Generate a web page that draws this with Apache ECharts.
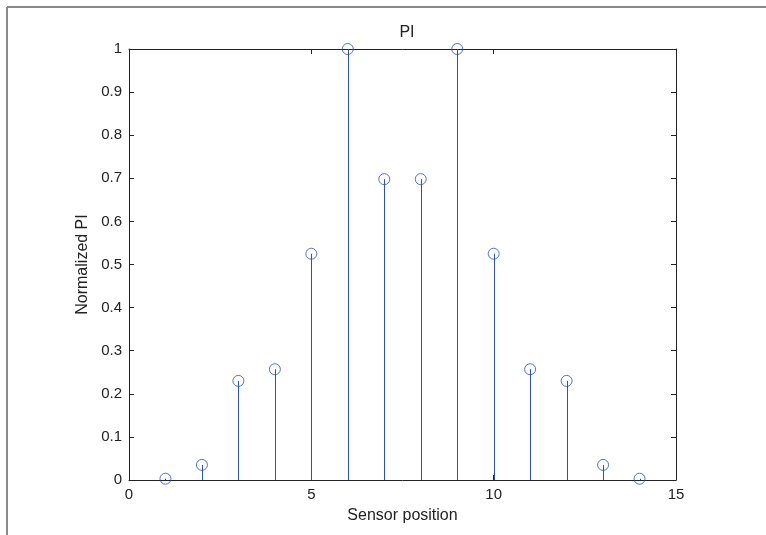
<!DOCTYPE html>
<html>
<head>
<meta charset="utf-8">
<script src="https://cdn.jsdelivr.net/npm/echarts@6/dist/echarts.min.js"></script>
<style>html,body{margin:0;padding:0;background:#fff}#c{width:766px;height:535px}</style>
</head>
<body>
<div id="c"></div>
<script>
const positions = [1,2,3,4,5,6,7,8,9,10,11,12,13,14];
const piValues = [0.003,0.035,0.23,0.257,0.525,1,0.698,0.698,1,0.525,0.257,0.23,0.035,0.003];
const xTicks = {min:0, max:15, interval:5};
const yTicks = {min:0, max:1, interval:0.1};
const titleText = 'PI';
const xName = 'Sensor position';
const yName = 'Normalized PI';

const pts = positions.map((p,i)=>[p, piValues[i]]);
const font = 'Liberation Sans, Arial, Helvetica, sans-serif';
const stemColor = '#2f50b8';
const chart = echarts.init(document.getElementById('c'), null, {renderer:'canvas'});
const axisCommon = {
  axisLine:{show:true, onZero:false, lineStyle:{color:'#222', width:1}},
  axisTick:{show:true, inside:true, length:5, lineStyle:{color:'#222'}},
  splitLine:{show:false}
};
chart.setOption({
  animation:false,
  title:{text:titleText, left:402, top:20, textAlign:'center',
    textStyle:{fontFamily:font, fontSize:16, fontWeight:'normal', color:'#222'}},
  grid:{left:129, right:90, top:49, bottom:55},
  graphic:[
    {type:'line', shape:{x1:7, y1:7, x2:766, y2:7}, style:{stroke:'#8a8a8a', lineWidth:2}},
    {type:'line', shape:{x1:7, y1:7, x2:7, y2:535}, style:{stroke:'#8a8a8a', lineWidth:2}}
  ],
  xAxis:[
    Object.assign({type:'value', position:'bottom', min:xTicks.min, max:xTicks.max, interval:xTicks.interval,
      name:xName, nameLocation:'middle', nameGap:28,
      nameTextStyle:{fontFamily:font, fontSize:16, color:'#222'},
      axisLabel:{fontFamily:font, fontSize:15, color:'#222', margin:7}}, axisCommon),
    Object.assign({type:'value', position:'top', min:xTicks.min, max:xTicks.max, interval:xTicks.interval,
      axisLabel:{show:false}}, axisCommon)
  ],
  yAxis:[
    Object.assign({type:'value', position:'left', min:yTicks.min, max:yTicks.max, interval:yTicks.interval,
      name:yName, nameLocation:'middle', nameGap:36, nameRotate:90,
      nameTextStyle:{fontFamily:font, fontSize:16, color:'#222'},
      axisLabel:{fontFamily:font, fontSize:15, color:'#222', margin:7,
        formatter:v=>String(Math.round(v*10)/10)}}, axisCommon),
    Object.assign({type:'value', position:'right', min:yTicks.min, max:yTicks.max, interval:yTicks.interval,
      axisLabel:{show:false}}, axisCommon)
  ],
  series:[
    {type:'custom', xAxisIndex:0, yAxisIndex:0, data:pts, z:2,
      renderItem:(params, api)=>{
        const top = api.coord([api.value(0), api.value(1)]);
        const base = api.coord([api.value(0), 0]);
        return {type:'line', shape:{x1:Math.round(top[0])+0.5, y1:top[1], x2:Math.round(base[0])+0.5, y2:base[1]},
          style:{stroke:stemColor, lineWidth:1}};
      }},
    {type:'scatter', xAxisIndex:0, yAxisIndex:0, data:pts, symbol:'circle', symbolSize:11, z:3,
      itemStyle:{color:'rgba(0,0,0,0)', borderColor:stemColor, borderWidth:1}}
  ]
});
</script>
</body>
</html>
